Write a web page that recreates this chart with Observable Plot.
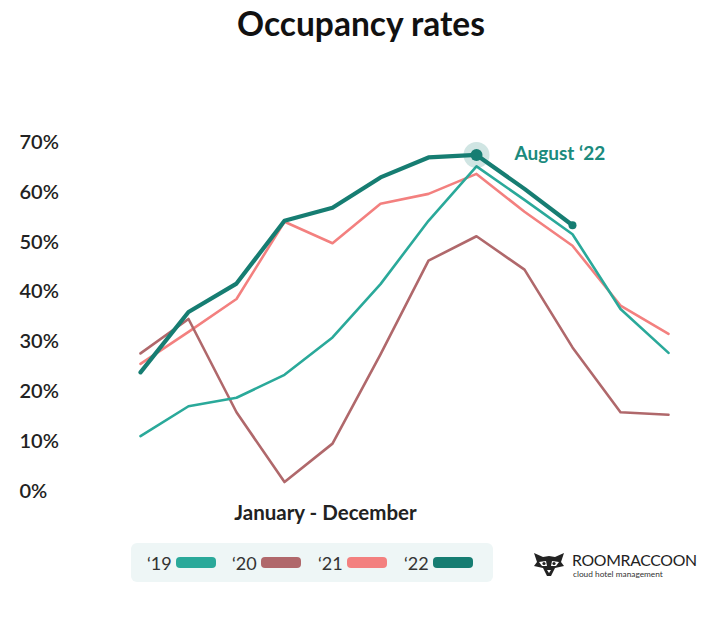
<!DOCTYPE html>
<html>
<head>
<meta charset="utf-8">
<script src="https://cdn.jsdelivr.net/npm/d3@7"></script>
<script src="https://cdn.jsdelivr.net/npm/@observablehq/plot@0.6"></script>
<style>
  body { margin: 0; background: #fff; font-family: Lato, "Open Sans", sans-serif; }
  #wrap { position: relative; width: 711px; height: 620px; overflow: hidden; }
  #title { position: absolute; left: 0; top: 3px; width: 722px; text-align: center; font-weight: 700; font-size: 33.5px; color: #111; }
  #chart { position: absolute; left: 0; top: 50px; }
  #legend { position: absolute; left: 131px; top: 543px; width: 362px; height: 39px; background: #eef6f6; border-radius: 6px; }
  .item { position: absolute; top: 9px; font-size: 18px; color: #333; }
  .sw { position: absolute; top: 14px; width: 40px; height: 11px; border-radius: 4px; }
  #logo { position: absolute; left: 533px; top: 551px; }
  #brand { position: absolute; left: 572px; top: 551px; font-size: 15.8px; line-height: 18px; color: #222; letter-spacing: -0.3px; }
  #tag { position: absolute; left: 573px; top: 569px; font-size: 8.3px; line-height: 10px; color: #333; }
</style>
</head>
<body>
<div id="wrap">
  <div id="title">Occupancy rates</div>
  <div id="chart"></div>
  <div id="legend"></div>
  <svg id="logo" width="32" height="26" viewBox="0 0 32 26">
    <path d="M1 2 L10 6 L16 5 L22 6 L31 2 L28 11 L31 15 L22 17 L18 25 L14 25 L10 17 L1 15 L4 11 Z" fill="#222"/>
    <path d="M6 11 L13 10 L14 15 L9 15 Z M26 11 L19 10 L18 15 L23 15 Z" fill="#fff"/>
    <circle cx="11" cy="12.5" r="1.6" fill="#222"/><circle cx="21" cy="12.5" r="1.6" fill="#222"/>
    <path d="M14 19 L18 19 L16 22 Z" fill="#fff"/>
  </svg>
  <div id="brand">ROOMRACCOON</div>
  <div id="tag">cloud hotel management</div>
</div>
<script>
const months = ["Jan","Feb","Mar","Apr","May","Jun","Jul","Aug","Sep","Oct","Nov","Dec"];
const v19 = [11.1, 17.1, 18.8, 23.4, 30.9, 41.6, 54.3, 65.2, 58.5, 51.6, 36.6, 27.8];
const v20 = [27.7, 34.6, 15.9, 1.9, 9.6, 27.5, 46.3, 51.2, 44.5, 28.9, 15.9, 15.4];
const v21 = [25.6, 32.0, 38.6, 54.1, 49.8, 57.7, 59.7, 63.7, 56.1, 49.3, 37.3, 31.6];
const v22 = [23.9, 36.0, 41.7, 54.3, 56.9, 63.0, 67.0, 67.5, 60.7, 53.4];
const seriesNames = ["'19", "'20", "'21", "'22"];
const labelNames = ["\u201819", "\u201820", "\u201821", "\u201822"];
const colors = ["#2aa99a", "#b0686b", "#f3807f", "#167d72"];
const yTicks = [0, 10, 20, 30, 40, 50, 60, 70];
const highlight = {month: "Aug", value: 67.5, label: "August \u201822"};

const toRows = (vals, s) => vals.map((v, i) => ({month: months[i], value: v, series: s}));
const rows19 = toRows(v19, seriesNames[0]);
const rows20 = toRows(v20, seriesNames[1]);
const rows21 = toRows(v21, seriesNames[2]);
const rows22 = toRows(v22, seriesNames[3]);

const chart = Plot.plot({
  width: 711,
  height: 480,
  marginLeft: 138,
  marginRight: 41,
  marginTop: 92,
  marginBottom: 39,
  style: {fontFamily: "Lato, sans-serif", background: "transparent"},
  x: {type: "point", domain: months, padding: 0, axis: null},
  y: {domain: [0, 70], axis: null},
  color: {domain: seriesNames, range: colors},
  marks: [
    Plot.text(yTicks, {y: d => d, text: d => d + "%", frameAnchor: "left", dx: -119, textAnchor: "start", fontSize: 20, fontWeight: 600, fill: "#222"}),
    Plot.line(rows21, {x: "month", y: "value", stroke: "series", strokeWidth: 2.6}),
    Plot.line(rows20, {x: "month", y: "value", stroke: "series", strokeWidth: 2.6}),
    Plot.line(rows19, {x: "month", y: "value", stroke: "series", strokeWidth: 2.6}),
    Plot.line(rows22, {x: "month", y: "value", stroke: "series", strokeWidth: 4.2}),
    Plot.dot([highlight], {x: "month", y: "value", r: 13, fill: "#167d72", fillOpacity: 0.2}),
    Plot.dot([highlight], {x: "month", y: "value", r: 6, fill: "#167d72"}),
    Plot.dot([rows22[rows22.length - 1]], {x: "month", y: "value", r: 4, fill: "#167d72"}),
    Plot.text([highlight], {x: "month", y: "value", text: "label", dx: 38, dy: -1, textAnchor: "start", fontSize: 19, fontWeight: 700, fill: "#1b8a7d"}),
    Plot.text(["January - December"], {frameAnchor: "bottom", dx: -79, dy: 28, text: d => d, fontSize: 20.5, fontWeight: 700, fill: "#222"})
  ]
});
document.getElementById("chart").appendChild(chart);

const legend = document.getElementById("legend");
const textX = [16, 101, 187, 273];
labelNames.forEach((n, i) => {
  const t = document.createElement("div");
  t.className = "item"; t.style.left = textX[i] + "px"; t.textContent = n;
  legend.appendChild(t);
  const s = document.createElement("div");
  s.className = "sw"; s.style.left = (textX[i] + 29) + "px"; s.style.background = colors[i];
  legend.appendChild(s);
});
</script>
</body>
</html>
